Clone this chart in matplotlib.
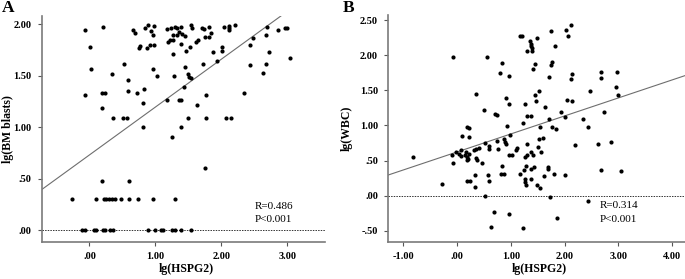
import matplotlib
matplotlib.use("Agg")
import matplotlib.pyplot as plt

plt.rcParams['font.family'] = ['Liberation Serif', 'DejaVu Serif']

# Panel A: lg(HSPG2) vs lg(BM blasts)
hspg2_a = [
    -0.064, 0.201, 0.008, 0.027, -0.073, 0.195, 0.232, 0.191, 0.363, 0.511,
    0.572, 0.338, 0.530, 0.587, 0.587, 0.713, 0.820, 0.816, 0.811, 0.659,
    0.689, 0.750, 0.765, 0.866, 0.846, 0.892, 0.938, 0.973, 0.963, 0.922,
    0.979, 0.963, 1.029, 1.171, 1.238, 1.303, 1.329, 1.384, 1.273, 1.329,
    1.227, 1.262, 1.197, 1.360, 1.405, 1.445, 1.380, 1.537, 1.268, 1.466,
    1.521, 1.441, 1.288, 1.497, 1.512, 1.532, 1.436, 1.177, 1.364, 1.390,
    1.494, 1.384, 1.555, 1.704, 1.730, 1.806, 1.841, 1.750, 1.811, 1.643,
    1.613, 1.867, 1.720, 1.939, 2.009, 2.015, 2.040, 2.107, 2.122, 2.122,
    2.203, 1.765, 1.634, 1.761, 2.066, 2.142, 2.340, 2.427, 2.473, 2.686,
    2.680, 2.726, 2.436, 2.680, 2.634, 2.863, 2.960, 2.995, 3.046, 1.253,
    1.750, 0.195, 0.598,
    -0.267, 0.099, 0.216, 0.252, 0.293, 0.343, 0.393, 0.480, 0.598, 0.739,
    0.968, 1.299,
    -0.110, -0.073, 0.069, 0.095, 0.201, 0.232, 0.317, 0.354, 0.881, 0.994,
    1.090, 1.116, 1.247, 1.299, 1.390, 1.543,
]
blasts_a = [
    1.941, 1.973, 1.779, 1.568, 1.310, 1.329, 1.329, 1.183, 1.086, 1.086,
    1.086, 1.514, 1.611, 1.455, 1.351, 1.329, 1.371, 1.235, 1.005, 1.941,
    1.917, 1.766, 1.791, 1.772, 1.960, 1.989, 1.934, 1.980, 1.898, 1.798,
    1.798, 1.568, 1.497, 1.953, 1.966, 1.973, 1.960, 1.973, 1.892, 1.895,
    1.844, 1.850, 1.824, 1.924, 1.902, 1.885, 1.808, 1.989, 1.711, 1.737,
    1.782, 1.587, 1.497, 1.514, 1.487, 1.475, 1.387, 1.261, 1.261, 1.261,
    1.086, 1.005, 1.968, 1.960, 1.950, 1.973, 1.912, 1.879, 1.873, 1.847,
    1.830, 1.727, 1.614, 1.643, 1.782, 1.743, 1.970, 1.980, 1.960, 1.941,
    1.989, 1.310, 1.213, 1.086, 1.086, 1.086, 1.329, 1.801, 1.866, 1.973,
    1.895, 1.727, 1.601, 1.611, 1.529, 1.947, 1.966, 1.963, 1.672, 0.908,
    0.607, 0.481, 0.481,
    0.301, 0.301, 0.301, 0.301, 0.301, 0.301, 0.301, 0.301, 0.301, 0.301,
    0.301, 0.301,
    0.0, 0.0, 0.0, 0.0, 0.0, 0.0, 0.0, 0.0, 0.0, 0.0,
    0.0, 0.0, 0.0, 0.0, 0.0, 0.0,
]
fit_a = (0.731, 0.465)   # intercept, slope
stats_a = ["R=0.486", "P<0.001"]

# Panel B: lg(HSPG2) vs lg(WBC)
hspg2_b = [
    1.177, 1.208, 1.351, 1.370, 1.381, 1.394, 1.307, 1.394, 1.481, -0.069,
    0.563, 0.842, 0.805, 0.961, 1.444, 1.413, 0.359, 0.916, 0.961, 1.258,
    1.444, 1.463, 0.502, 0.701, 0.749, 1.296, 1.381, 1.232, 0.929, 0.191,
    0.217, 1.747, 2.032, 2.113, 2.063, 1.816, 1.760, 1.747, 1.710, 2.132,
    2.119, 2.682, 2.682, 2.968, 2.961, 2.993, 2.472, 1.519, 1.630, 2.050,
    2.143, 1.939, 2.013, 2.727, 1.716, 2.336, 1.543, 1.760, 1.846, 2.429,
    0.087, 0.229, -0.823, -0.087, -0.074, -0.013, 0.032, 0.069, 0.080, 0.143,
    0.173, 0.191, 0.204, 0.191, 0.223, 0.316, 0.353, 0.403, 0.359, 0.377,
    0.470, 0.515, 0.589, 0.595, 0.738, 0.762, 0.868, 0.887, 0.916, 0.980,
    1.091, 1.115, 0.961, 1.022, 0.836, 0.823, 0.868, 0.576, 0.589, 0.329,
    0.186, 0.247, 0.340, -0.279, 0.526, 0.688, 0.972, 0.623, 1.232, 1.301,
    1.258, 1.301, 1.381, 1.413, 1.524, 1.599, 1.288, 1.381, 1.426, 1.245,
    1.177, 1.258, 1.270, 1.288, 1.381, 1.487, 1.548, 1.500, 1.556, 1.697,
    1.686, 1.809, 1.623, 2.013, 2.199, 2.626, 2.868, 2.682, 3.043, 1.719,
    1.859, 2.429,
]
wbc_b = [
    2.277, 2.277, 2.196, 2.159, 2.124, 2.101, 2.063, 2.063, 2.244, 1.973,
    1.973, 1.887, 1.744, 1.701, 1.873, 1.806, 1.444, 1.387, 1.301, 1.306,
    1.434, 1.349, 1.216, 1.167, 1.149, 1.139, 1.139, 1.039, 0.991, 0.973,
    0.959, 2.349, 2.359, 2.430, 2.273, 2.124, 1.910, 1.863, 1.696, 1.730,
    1.659, 1.759, 1.673, 1.759, 1.553, 1.430, 1.496, 1.491, 1.267, 1.367,
    1.349, 1.196, 1.124, 1.187, 1.091, 1.091, 0.981, 0.981, 0.944, 0.977,
    0.849, 0.839, 0.559, 0.587, 0.463, 0.616, 0.601, 0.563, 0.649, 0.577,
    0.624, 0.553, 0.530, 0.506, 0.601, 0.649, 0.663, 0.673, 0.544, 0.516,
    0.467, 0.744, 0.706, 0.663, 0.777, 0.663, 0.806, 0.767, 0.734, 0.863,
    0.649, 0.673, 0.577, 0.587, 0.424, 0.316, 0.306, 0.301, 0.210, 0.291,
    0.210, 0.210, 0.120, 0.173, -0.004, -0.233, -0.256, -0.447, -0.461, 0.734,
    0.553, 0.587, 0.624, 0.577, 0.806, 0.816, 0.420, 0.387, 0.410, 0.373,
    0.306, 0.244, 0.196, 0.159, 0.244, 0.159, 0.110, 0.696, 0.624, 0.410,
    0.387, 0.310, 0.277, 0.296, 0.720, 0.730, 0.763, 0.373, 0.359, -0.019,
    -0.319, -0.080,
]
fit_b = (0.624, 0.256)
stats_b = ["R=0.314", "P<0.001"]

xticks_a = [0, 1, 2, 3]
xlabels_a = [".00", "1.00", "2.00", "3.00"]
yticks_a = [0, 0.5, 1, 1.5, 2]
ylabels_a = [".00", ".50", "1.00", "1.50", "2.00"]
xticks_b = [-1, 0, 1, 2, 3, 4]
xlabels_b = ["-1.00", ".00", "1.00", "2.00", "3.00", "4.00"]
yticks_b = [-0.5, 0, 0.5, 1, 1.5, 2, 2.5]
ylabels_b = ["-.50", ".00", ".50", "1.00", "1.50", "2.00", "2.50"]

fig = plt.figure(figsize=(6.85, 2.79), dpi=100)
ax_a = fig.add_axes([0.0613, 0.1326, 0.4132, 0.8101])
ax_b = fig.add_axes([0.5669, 0.1326, 0.4331, 0.8135])


def style(ax, x, y, xt, xl, yt, yl, xlim, ylim, xlab, ylab, ylab_x, fit, stats, stat_x):
    ax.scatter(x, y, s=9, color="black", linewidths=0, zorder=3)
    ax.axline((0, fit[0]), slope=fit[1], color="#6e6e6e", lw=0.8, zorder=2)
    ax.axhline(0, color="#333333", lw=0.7, ls=(0, (1.5, 1.2)), zorder=1)
    ax.set_xlim(*xlim)
    ax.set_ylim(*ylim)
    ax.set_xticks(xt)
    ax.set_xticklabels(xl)
    ax.set_yticks(yt)
    ax.set_yticklabels(yl)
    for s in ("top", "right"):
        ax.spines[s].set_visible(False)
    for s in ("left", "bottom"):
        ax.spines[s].set_color("#7a7a7a")
        ax.spines[s].set_linewidth(1.2)
    ax.tick_params(length=3, width=0.8, color="#555555", labelsize=7.5, pad=4.5)
    for lab in ax.get_xticklabels() + ax.get_yticklabels():
        lab.set_fontweight("bold")
    ax.set_xlabel(xlab, fontsize=8.5, fontweight="bold")
    ax.set_ylabel(ylab, fontsize=8.5, fontweight="bold")
    ax.xaxis.set_label_coords(0.51, -0.093)
    ax.yaxis.set_label_coords(ylab_x, 0.5)
    ax.text(stat_x, 0.159, stats[0], transform=ax.transAxes, fontsize=8, va="center")
    ax.text(stat_x, 0.100, stats[1], transform=ax.transAxes, fontsize=8, va="center")


style(ax_a, hspg2_a, blasts_a, xticks_a, xlabels_a, yticks_a, ylabels_a,
      (-0.72, 3.57), (-0.115, 2.08), "lg(HSPG2)", "lg(BM blasts)", -0.099,
      fit_a, stats_a, 0.753)
style(ax_b, hspg2_b, wbc_b, xticks_b, xlabels_b, yticks_b, ylabels_b,
      (-1.28, 4.24), (-0.657, 2.571), "lg(HSPG2)", "lg(WBC)", -0.121,
      fit_b, stats_b, 0.713)

fig.text(0.003, 0.943, "A", fontsize=12.5, fontweight="bold", va="bottom")
fig.text(0.501, 0.941, "B", fontsize=12.5, fontweight="bold", va="bottom")

fig.savefig("out.png", dpi=100)
